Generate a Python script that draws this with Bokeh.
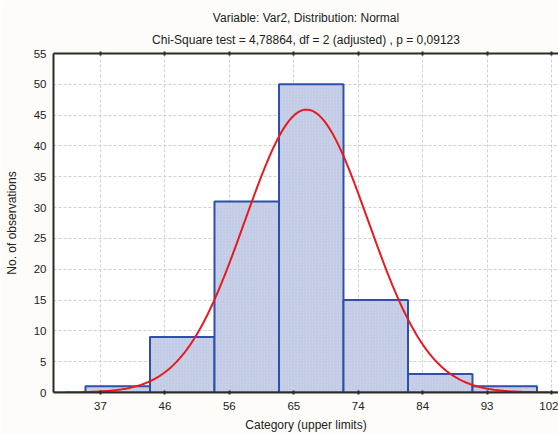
import numpy as np
from bokeh.plotting import figure
from bokeh.models import (Range1d, FixedTicker, LinearAxis, Title)
from bokeh.embed import file_html
from bokeh.resources import INLINE

# ---- data ----
bin_edges = [34.82, 44.18, 53.54, 62.90, 72.26, 81.62, 90.98, 100.34]
counts = [1, 9, 31, 50, 15, 3, 1]
tick_values = [37.0, 46.35, 55.7, 65.05, 74.4, 83.75, 93.1, 102.45]
tick_labels = ["37", "46", "56", "65", "74", "84", "93", "102"]
y_ticks = [0, 5, 10, 15, 20, 25, 30, 35, 40, 45, 50, 55]
# fitted normal
fit_mean = 66.9
fit_sd = 8.95
n_obs = 110
x_min, x_max = 30.18, 103.46

title_1 = "Variable: Var2, Distribution: Normal"
title_2 = "Chi-Square test = 4,78864, df = 2 (adjusted) , p = 0,09123"
x_title = "Category (upper limits)"
y_title = "No. of observations"

FONT = "Liberation Sans"

p = figure(width=558, height=434, output_backend="svg", toolbar_location=None,
           x_range=Range1d(x_min, x_max), y_range=Range1d(0, 55),
           min_border_left=53, min_border_right=0, min_border_top=0, min_border_bottom=0,
           x_axis_location=None, y_axis_location=None)
p.background_fill_color = "white"
p.border_fill_color = "#FDFCF8"
p.outline_line_color = None

xticker = FixedTicker(ticks=tick_values)
yticker = FixedTicker(ticks=y_ticks)

def style_axis(ax):
    ax.axis_line_color = "#2a2a2a"
    ax.axis_line_width = 2
    ax.major_tick_line_color = "#2a2a2a"
    ax.major_tick_line_width = 2
    ax.major_tick_in = 2
    ax.major_tick_out = 2
    ax.minor_tick_line_color = None
    ax.major_label_text_font = FONT
    ax.major_label_text_font_size = "11.5px"
    ax.major_label_text_color = "#222222"
    ax.axis_label_text_font = FONT
    ax.axis_label_text_font_size = "12px"
    ax.axis_label_text_font_style = "normal"
    ax.axis_label_text_color = "#222222"

xaxis = LinearAxis(ticker=xticker)
xaxis.major_label_overrides = {v: l for v, l in zip(tick_values, tick_labels)}
style_axis(xaxis)
xaxis.major_label_standoff = 7

top_axis = LinearAxis(ticker=xticker)
style_axis(top_axis)
top_axis.major_label_text_color = None
top_axis.major_label_text_font_size = "0px"
top_axis.major_label_standoff = 0

yaxis = LinearAxis(ticker=yticker, axis_label=y_title)
style_axis(yaxis)
yaxis.major_tick_line_color = None
yaxis.major_label_standoff = 5
yaxis.axis_label_standoff = 12

p.add_layout(yaxis, "left")
p.add_layout(xaxis, "below")
p.add_layout(Title(text=x_title, align="center", offset=8,
                   text_font=FONT, text_font_size="12px", text_font_style="normal",
                   text_color="#222222", standoff=6), "below")

def title(txt, standoff, size="12px"):
    return Title(text=txt, align="center", offset=-10, text_font=FONT,
                 text_font_size=size, text_font_style="normal",
                 text_color="#222222", standoff=standoff)

t2 = title(title_2, 10)
t1 = title(title_1, 1)
spacer = title(" ", 5, "1px")
p.above = [top_axis, t2, t1, spacer]

p.xgrid.ticker = xticker
p.ygrid.ticker = yticker
for g in (p.xgrid, p.ygrid):
    g.grid_line_color = "#D0D0D0"
    g.grid_line_dash = "3 2"
    g.grid_line_width = 1

p.quad(left=bin_edges[:-1], right=bin_edges[1:], bottom=0, top=counts,
       fill_color="#CDD5EA", line_color="#2F4FA8", line_width=2,
       hatch_pattern="right_diagonal_line", hatch_color="#B4BFDD",
       hatch_scale=3, hatch_weight=0.6)

bin_width = bin_edges[1] - bin_edges[0]
xs = np.linspace(x_min, x_max, 400)
ys = n_obs * bin_width / (fit_sd * np.sqrt(2 * np.pi)) * np.exp(-0.5 * ((xs - fit_mean) / fit_sd) ** 2)
p.line(xs, ys, line_color="#E8191F", line_width=2)

open("out.html", "w").write(file_html(p, INLINE))
